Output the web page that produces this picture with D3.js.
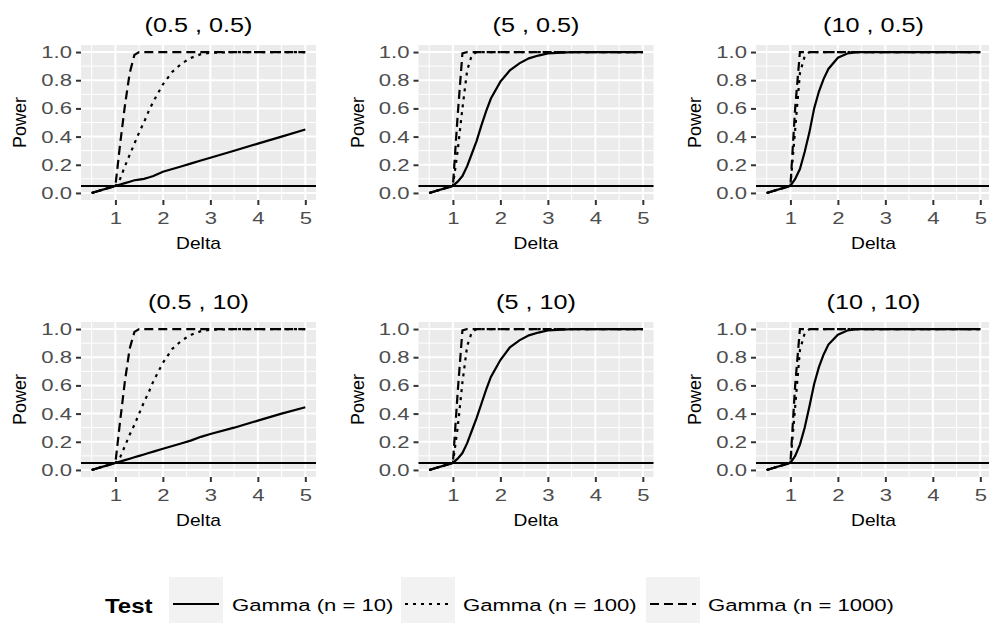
<!DOCTYPE html>
<html>
<head>
<meta charset="utf-8">
<script src="https://cdn.jsdelivr.net/npm/d3@7"></script>
<style>
  body { margin: 0; background: #ffffff; }
  svg { display: block; font-family: "Liberation Sans", Arial, sans-serif; }
</style>
</head>
<body>
<div id="svgcontainer"></div>
<script>
// --- --- Data --- ---

// Delta values shared by every curve
var delta = [0.5, 1, 1.1, 1.2, 1.3, 1.4, 1.5, 1.6, 1.7, 1.8, 2, 2.2, 2.4, 2.6, 2.8, 3, 3.5, 4, 4.5, 5];

var panel_titles = ["(0.5 ,  0.5)", "(5 ,  0.5)", "(10 ,  0.5)", "(0.5 ,  10)", "(5 ,  10)", "(10 ,  10)"];
var test_labels = ["Gamma (n = 10)", "Gamma (n = 100)", "Gamma (n = 1000)"];
var x_ticks = [1, 2, 3, 4, 5];
var y_ticks = [0, 0.2, 0.4, 0.6, 0.8, 1.0];
var alpha_level = 0.05;

// (0.5, 0.5)
var p1_n10   = [0.00, 0.05, 0.06, 0.07, 0.08, 0.09, 0.095, 0.10, 0.11, 0.12, 0.15, 0.17, 0.19, 0.21, 0.23, 0.25, 0.30, 0.35, 0.40, 0.45];
var p1_n100  = [0.00, 0.05, 0.10, 0.19, 0.27, 0.35, 0.43, 0.50, 0.58, 0.65, 0.77, 0.86, 0.92, 0.96, 0.985, 0.995, 1, 1, 1, 1];
var p1_n1000 = [0.00, 0.05, 0.35, 0.62, 0.85, 0.98, 1, 1, 1, 1, 1, 1, 1, 1, 1, 1, 1, 1, 1, 1];
// (5, 0.5)
var p2_n10   = [0.00, 0.05, 0.08, 0.12, 0.19, 0.28, 0.37, 0.48, 0.58, 0.67, 0.79, 0.87, 0.92, 0.955, 0.975, 0.99, 1, 1, 1, 1];
var p2_n100  = [0.00, 0.05, 0.30, 0.60, 0.87, 0.98, 1, 1, 1, 1, 1, 1, 1, 1, 1, 1, 1, 1, 1, 1];
var p2_n1000 = [0.00, 0.05, 0.55, 0.99, 1, 1, 1, 1, 1, 1, 1, 1, 1, 1, 1, 1, 1, 1, 1, 1];
// (10, 0.5)
var p3_n10   = [0.00, 0.05, 0.10, 0.17, 0.29, 0.43, 0.60, 0.72, 0.81, 0.88, 0.96, 0.99, 1, 1, 1, 1, 1, 1, 1, 1];
var p3_n100  = [0.00, 0.05, 0.45, 0.85, 0.97, 1, 1, 1, 1, 1, 1, 1, 1, 1, 1, 1, 1, 1, 1, 1];
var p3_n1000 = [0.00, 0.05, 0.60, 1, 1, 1, 1, 1, 1, 1, 1, 1, 1, 1, 1, 1, 1, 1, 1, 1];
// (0.5, 10)
var p4_n10   = [0.00, 0.05, 0.06, 0.07, 0.08, 0.09, 0.10, 0.11, 0.12, 0.13, 0.15, 0.17, 0.19, 0.21, 0.235, 0.255, 0.30, 0.35, 0.40, 0.445];
var p4_n100  = [0.00, 0.05, 0.09, 0.17, 0.25, 0.32, 0.40, 0.48, 0.55, 0.63, 0.76, 0.86, 0.92, 0.96, 0.985, 0.995, 1, 1, 1, 1];
var p4_n1000 = [0.00, 0.05, 0.35, 0.63, 0.86, 0.98, 1, 1, 1, 1, 1, 1, 1, 1, 1, 1, 1, 1, 1, 1];
// (5, 10)
var p5_n10   = [0.00, 0.05, 0.08, 0.12, 0.19, 0.28, 0.37, 0.47, 0.57, 0.66, 0.78, 0.87, 0.92, 0.955, 0.975, 0.99, 1, 1, 1, 1];
var p5_n100  = [0.00, 0.05, 0.30, 0.62, 0.88, 0.98, 1, 1, 1, 1, 1, 1, 1, 1, 1, 1, 1, 1, 1, 1];
var p5_n1000 = [0.00, 0.05, 0.55, 0.99, 1, 1, 1, 1, 1, 1, 1, 1, 1, 1, 1, 1, 1, 1, 1, 1];
// (10, 10)
var p6_n10   = [0.00, 0.05, 0.10, 0.18, 0.30, 0.45, 0.61, 0.73, 0.82, 0.89, 0.96, 0.99, 1, 1, 1, 1, 1, 1, 1, 1];
var p6_n100  = [0.00, 0.05, 0.45, 0.85, 0.97, 1, 1, 1, 1, 1, 1, 1, 1, 1, 1, 1, 1, 1, 1, 1];
var p6_n1000 = [0.00, 0.05, 0.60, 1, 1, 1, 1, 1, 1, 1, 1, 1, 1, 1, 1, 1, 1, 1, 1, 1];

var panel_series = [
    [p1_n10, p1_n100, p1_n1000],
    [p2_n10, p2_n100, p2_n1000],
    [p3_n10, p3_n100, p3_n1000],
    [p4_n10, p4_n100, p4_n1000],
    [p5_n10, p5_n100, p5_n1000],
    [p6_n10, p6_n100, p6_n1000]
];

// --- --- Layout --- ---
var width = 989;
var height = 623;
var col_left = [81, 418.5, 756];
var row_top = [45, 322];
var panel_w = 235;
var panel_h = 155;

// solid, dotted, dashed
var dash_styles = [null, "3,5", "9,5"];
var text_color = "#4d4d4d";
var font_tick = 17;

const svg = d3.select("#svgcontainer").append("svg")
    .attr("width", width).attr("height", height)
    .attr("viewBox", [0, 0, width, height]).attr("id", "svg");

panel_titles.forEach(function(title, i){
    drawPanel(i, title, panel_series[i]);
});
drawLegend();

// The text in the original is wider than plain Arial: stretch it sideways
function stretch(sel, k){
    sel.each(function(){
        var t = d3.select(this);
        var x0 = +t.attr("x") || 0;
        t.attr("x", x0 / k).attr("transform", "scale(" + k + ",1)");
    });
}

// --- Draw one small plot ---
function drawPanel(index, title, series){
    var left = col_left[index % 3];
    var top = row_top[Math.floor(index / 3)];

    var x = d3.scaleLinear().domain([0.275, 5.225]).range([left, left + panel_w]);
    var y = d3.scaleLinear().domain([-0.05, 1.05]).range([top + panel_h, top]);

    var g = svg.append("g");

    g.append("rect")
        .attr("x", left).attr("y", top)
        .attr("width", panel_w).attr("height", panel_h)
        .attr("fill", "#ebebeb");

    // minor grid
    var x_minor = [0.5, 1.5, 2.5, 3.5, 4.5];
    var y_minor = [0.1, 0.3, 0.5, 0.7, 0.9];
    g.selectAll(".xminor").data(x_minor).enter().append("line")
        .attr("x1", d => x(d)).attr("x2", d => x(d))
        .attr("y1", top).attr("y2", top + panel_h)
        .attr("stroke", "#ffffff").attr("stroke-width", 1);
    g.selectAll(".yminor").data(y_minor).enter().append("line")
        .attr("x1", left).attr("x2", left + panel_w)
        .attr("y1", d => y(d)).attr("y2", d => y(d))
        .attr("stroke", "#ffffff").attr("stroke-width", 1);
    // major grid
    g.selectAll(".xmajor").data(x_ticks).enter().append("line")
        .attr("x1", d => x(d)).attr("x2", d => x(d))
        .attr("y1", top).attr("y2", top + panel_h)
        .attr("stroke", "#ffffff").attr("stroke-width", 2);
    g.selectAll(".ymajor").data(y_ticks).enter().append("line")
        .attr("x1", left).attr("x2", left + panel_w)
        .attr("y1", d => y(d)).attr("y2", d => y(d))
        .attr("stroke", "#ffffff").attr("stroke-width", 2);

    // curves
    var line = d3.line().x((d, i) => x(delta[i])).y(d => y(d));
    series.forEach(function(values, k){
        g.append("path")
            .attr("d", line(values))
            .attr("fill", "none")
            .attr("stroke", "#000000")
            .attr("stroke-width", 2.2)
            .attr("stroke-dasharray", dash_styles[k]);
    });

    // horizontal line at the test level
    g.append("line")
        .attr("x1", left).attr("x2", left + panel_w)
        .attr("y1", y(alpha_level)).attr("y2", y(alpha_level))
        .attr("stroke", "#000000").attr("stroke-width", 2);

    // axes
    var xAxis = g.append("g")
        .attr("transform", "translate(0," + (top + panel_h) + ")")
        .call(d3.axisBottom(x).tickValues(x_ticks).tickSize(5).tickPadding(7).tickFormat(d3.format("d")));
    var yAxis = g.append("g")
        .attr("transform", "translate(" + left + ",0)")
        .call(d3.axisLeft(y).tickValues(y_ticks).tickSize(5).tickPadding(4).tickFormat(d3.format(".1f")));
    [xAxis, yAxis].forEach(function(a){
        a.select(".domain").remove();
        a.selectAll(".tick line").attr("stroke", "#333333").attr("stroke-width", 2);
        a.selectAll(".tick text").attr("fill", text_color)
            .style("font-size", font_tick + "px")
            .style("font-family", "'Liberation Sans', Arial, sans-serif")
            .call(stretch, 1.3);
    });

    // title
    g.append("text")
        .attr("x", left + panel_w / 2).attr("y", top - 13)
        .attr("text-anchor", "middle")
        .style("font-size", "21px").attr("fill", "#000000")
        .text(title)
        .call(stretch, 1.2);

    // axis titles
    g.append("text")
        .attr("x", left + panel_w / 2).attr("y", top + panel_h + 49)
        .attr("text-anchor", "middle")
        .style("font-size", "16px").attr("fill", "#000000")
        .text("Delta")
        .call(stretch, 1.2);
    g.append("text")
        .attr("transform", "translate(" + (left - 55) + "," + (top + panel_h / 2) + ") rotate(-90)")
        .attr("text-anchor", "middle")
        .style("font-size", "18px").attr("fill", "#000000")
        .text("Power");
}

// --- Legend at the bottom ---
function drawLegend(){
    var key_x = [169, 401, 646];
    var label_x = [232, 463, 708];
    var key_w = 54;
    var legend_y = 604;

    svg.append("text")
        .attr("x", 105).attr("y", legend_y + 9)
        .style("font-size", "20px").style("font-weight", "bold")
        .attr("fill", "#000000")
        .text("Test")
        .call(stretch, 1.2);

    test_labels.forEach(function(label, k){
        svg.append("rect")
            .attr("x", key_x[k]).attr("y", 577)
            .attr("width", key_w).attr("height", 60)
            .attr("fill", "#f2f2f2");
        svg.append("line")
            .attr("x1", key_x[k] + 4).attr("x2", key_x[k] + key_w - 4)
            .attr("y1", legend_y).attr("y2", legend_y)
            .attr("stroke", "#000000").attr("stroke-width", 2)
            .attr("stroke-dasharray", dash_styles[k]);
        svg.append("text")
            .attr("x", label_x[k]).attr("y", legend_y + 7)
            .style("font-size", "17px").attr("fill", "#000000")
            .text(label)
            .call(stretch, 1.3);
    });
}
</script>
</body>
</html>
